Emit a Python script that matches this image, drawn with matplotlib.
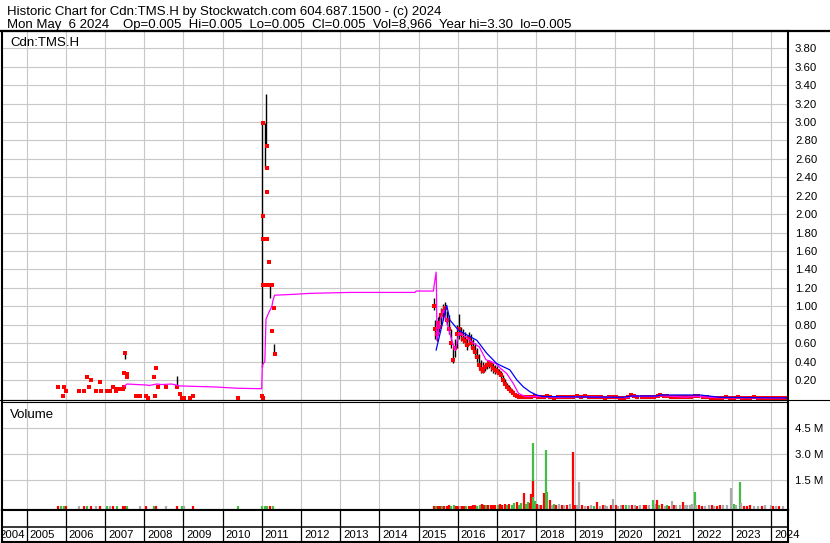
import matplotlib
matplotlib.use("Agg")
import matplotlib.pyplot as plt
from matplotlib.lines import Line2D

plt.rcParams['font.family'] = ['Liberation Sans', 'DejaVu Sans']

W, H = 830, 543

# ---- price data (decimal years) ----
bar_dates = [2007.505, 2008.83, 2011.015, 2011.085, 2011.11, 2011.22, 2011.32,
             2015.40, 2015.43, 2015.46, 2015.49, 2015.52, 2015.57, 2015.63, 2015.68,
             2015.73, 2015.78, 2015.83, 2015.88, 2015.93, 2015.98, 2016.03, 2016.08,
             2016.14, 2016.19, 2016.24, 2016.29, 2016.34, 2016.39, 2016.44, 2016.49,
             2016.54, 2016.59, 2016.65, 2016.70, 2016.75, 2016.80, 2016.85, 2016.90,
             2016.95, 2017.00, 2017.05, 2017.10, 2017.15, 2017.21, 2017.26, 2017.31,
             2017.36, 2017.41, 2017.46, 2017.51, 2017.56,
             2017.97, 2018.27, 2020.44, 2021.14, 2022.10]
bar_hi = [0.50, 0.24, 2.99, 2.99, 3.30, 1.23, 0.59,
          1.09, 0.85, 0.80, 0.88, 0.90, 0.98, 1.02, 1.05,
          0.95, 0.90, 0.75, 0.55, 0.65, 0.80, 0.92, 0.78,
          0.75, 0.72, 0.68, 0.72, 0.70, 0.65, 0.60, 0.55,
          0.48, 0.42, 0.40, 0.38, 0.40, 0.42, 0.40, 0.38,
          0.36, 0.35, 0.32, 0.30, 0.25, 0.21, 0.17, 0.14,
          0.11, 0.09, 0.06, 0.05, 0.04,
          0.05, 0.04, 0.05, 0.05, 0.04]
bar_lo = [0.43, 0.13, 0.34, 2.50, 2.74, 1.09, 0.49,
          0.96, 0.65, 0.62, 0.70, 0.72, 0.80, 0.85, 0.88,
          0.80, 0.70, 0.55, 0.38, 0.45, 0.55, 0.65, 0.62,
          0.60, 0.58, 0.52, 0.58, 0.55, 0.50, 0.45, 0.40,
          0.32, 0.28, 0.28, 0.30, 0.32, 0.33, 0.30, 0.28,
          0.27, 0.26, 0.24, 0.21, 0.17, 0.13, 0.10, 0.08,
          0.06, 0.05, 0.03, 0.02, 0.01,
          0.02, 0.015, 0.02, 0.025, 0.02]

close_dates = [2005.80, 2005.94, 2005.96, 2006.02, 2006.33, 2006.46, 2006.54, 2006.59,
               2006.64, 2006.77, 2006.87, 2006.89, 2007.05, 2007.13, 2007.20, 2007.28,
               2007.31, 2007.39, 2007.45, 2007.49, 2007.49, 2007.505, 2007.56, 2007.56,
               2007.79, 2007.89, 2008.04, 2008.09, 2008.24, 2008.28, 2008.31, 2008.35,
               2008.55, 2008.83, 2008.92, 2008.96, 2009.02, 2009.17, 2009.24, 2010.39,
               2011.00, 2011.03,
               2011.03, 2011.13, 2011.13, 2011.13, 2011.03, 2011.03, 2011.13, 2011.19,
               2011.03, 2011.13, 2011.22, 2011.26, 2011.31, 2011.27, 2011.33,
               2015.40, 2015.43, 2015.46, 2015.49, 2015.52, 2015.57, 2015.63, 2015.68,
               2015.73, 2015.78, 2015.83, 2015.88, 2015.93, 2015.98, 2016.03, 2016.08,
               2016.14, 2016.19, 2016.24, 2016.29, 2016.34, 2016.39, 2016.44, 2016.49,
               2016.54, 2016.59, 2016.65, 2016.70, 2016.75, 2016.80, 2016.85, 2016.90,
               2016.95, 2017.00, 2017.05, 2017.10, 2017.15, 2017.21, 2017.26, 2017.31,
               2017.36, 2017.41, 2017.46, 2017.51, 2017.56,
               2017.65, 2017.72, 2017.80, 2017.88, 2017.97, 2018.05, 2018.12, 2018.20,
               2018.27, 2018.35, 2018.45, 2018.55, 2018.65, 2018.75, 2018.85, 2018.95,
               2019.05, 2019.15, 2019.25, 2019.35, 2019.45, 2019.55, 2019.65, 2019.75,
               2019.85, 2019.95, 2020.05, 2020.15, 2020.25, 2020.35, 2020.42, 2020.50,
               2020.58, 2020.70, 2020.80, 2020.90, 2021.00, 2021.10, 2021.15, 2021.25,
               2021.35, 2021.45, 2021.55, 2021.65, 2021.75, 2021.85, 2021.95, 2022.05,
               2022.12, 2022.25, 2022.35, 2022.45, 2022.55, 2022.65, 2022.75, 2022.85,
               2022.95, 2023.05, 2023.15, 2023.25, 2023.35, 2023.45, 2023.55, 2023.65,
               2023.75, 2023.85, 2023.95, 2024.05, 2024.15, 2024.25, 2024.34]
close_vals = [0.127, 0.03, 0.127, 0.08, 0.08, 0.08, 0.235, 0.127,
              0.20, 0.08, 0.178, 0.08, 0.08, 0.08, 0.127, 0.08,
              0.105, 0.105, 0.105, 0.127, 0.28, 0.49, 0.26, 0.235,
              0.03, 0.03, 0.03, 0.008, 0.235, 0.03, 0.333, 0.127,
              0.127, 0.127, 0.05, 0.008, 0.008, 0.008, 0.03, 0.008,
              0.03, 0.008,
              2.99, 2.74, 2.50, 2.24, 1.98, 1.73, 1.73, 1.48,
              1.234, 1.234, 1.234, 1.234, 0.985, 0.735, 0.48,
              1.00, 0.75, 0.70, 0.82, 0.78, 0.90, 0.95, 0.98,
              0.85, 0.75, 0.60, 0.42, 0.55, 0.70, 0.75, 0.70,
              0.65, 0.62, 0.58, 0.66, 0.60, 0.55, 0.50, 0.45,
              0.36, 0.32, 0.30, 0.34, 0.36, 0.38, 0.36, 0.33,
              0.31, 0.30, 0.28, 0.25, 0.20, 0.16, 0.12, 0.10,
              0.08, 0.06, 0.04, 0.03, 0.02,
              0.02, 0.015, 0.01, 0.02, 0.03, 0.015, 0.01, 0.02,
              0.025, 0.01, 0.008, 0.01, 0.012, 0.01, 0.015, 0.02,
              0.025, 0.02, 0.025, 0.015, 0.01, 0.012, 0.01, 0.008,
              0.01, 0.012, 0.01, 0.008, 0.005, 0.02, 0.035, 0.025,
              0.02, 0.015, 0.02, 0.015, 0.02, 0.03, 0.04, 0.03,
              0.025, 0.02, 0.015, 0.01, 0.012, 0.015, 0.02, 0.03,
              0.025, 0.015, 0.01, 0.008, 0.005, 0.008, 0.005, 0.01,
              0.008, 0.005, 0.01, 0.005, 0.008, 0.005, 0.01, 0.005,
              0.008, 0.005, 0.005, 0.008, 0.005, 0.005, 0.005]

ma_short_dates = [2007.49, 2007.56, 2008.07, 2008.13, 2008.32, 2008.45, 2008.70, 2008.92,
                  2009.81, 2010.39, 2011.00, 2011.015, 2011.08, 2011.11, 2011.17, 2011.26,
                  2011.29, 2011.33, 2011.85, 2012.23, 2013.25, 2014.91, 2014.94, 2015.38,
                  2015.40, 2015.45, 2015.46, 2015.47, 2015.55, 2015.64, 2015.72, 2015.85,
                  2015.94, 2016.03, 2016.20, 2016.40, 2016.55, 2016.72, 2016.97, 2017.08,
                  2017.25, 2017.42, 2017.55, 2017.72, 2017.90, 2018.20, 2018.60, 2019.00,
                  2019.30, 2019.60, 2020.00, 2020.30, 2020.45, 2020.70, 2021.00, 2021.20,
                  2021.50, 2021.80, 2022.10, 2022.40, 2022.70, 2023.00, 2023.50, 2024.00,
                  2024.34]
ma_short_vals = [0.127, 0.156, 0.145, 0.140, 0.156, 0.150, 0.156, 0.135,
                 0.124, 0.110, 0.105, 0.36, 0.40, 0.86, 0.92, 1.00,
                 1.07, 1.12, 1.13, 1.14, 1.15, 1.15, 1.165, 1.165,
                 1.23, 1.37, 1.14, 0.63, 0.85, 0.96, 0.83, 0.63,
                 0.52, 0.71, 0.67, 0.60, 0.56, 0.42, 0.38, 0.33,
                 0.27, 0.16, 0.055, 0.02, 0.02, 0.018, 0.012, 0.018,
                 0.02, 0.013, 0.01, 0.008, 0.025, 0.02, 0.02, 0.03,
                 0.022, 0.013, 0.022, 0.012, 0.007, 0.007, 0.006, 0.006,
                 0.005]

ma_long_dates = [2015.45, 2015.72, 2015.80, 2016.02, 2016.23, 2016.49, 2016.74, 2016.99,
                 2017.08, 2017.33, 2017.51, 2017.67, 2017.84, 2018.01, 2018.18, 2020.22,
                 2020.44, 2021.08, 2021.17, 2022.18, 2022.69, 2024.39]
ma_long_vals = [0.525, 1.01, 0.85, 0.74, 0.69, 0.63, 0.49, 0.38,
                0.36, 0.31, 0.20, 0.127, 0.073, 0.037, 0.02, 0.012,
                0.026, 0.026, 0.037, 0.037, 0.012, 0.005]

# ---- volume data (millions of shares); g = up, r = down, k = unchanged ----
vol_dates = [2005.80, 2005.87, 2005.95, 2006.02, 2006.33, 2006.46, 2006.54, 2006.64,
             2006.77, 2006.87, 2007.05, 2007.13, 2007.20, 2007.31, 2007.45, 2007.50,
             2007.56, 2007.89, 2008.04, 2008.24, 2008.31, 2008.55, 2008.83, 2008.96,
             2009.02, 2009.24, 2010.39, 2011.02, 2011.08, 2011.13, 2011.20, 2011.30,
             2015.40, 2015.45, 2015.50, 2015.55, 2015.60, 2015.66, 2015.72, 2015.78,
             2015.84, 2015.90, 2015.95, 2016.00, 2016.05, 2016.10, 2016.16, 2016.22,
             2016.28, 2016.34, 2016.40, 2016.44, 2016.50, 2016.56, 2016.62, 2016.66,
             2016.72, 2016.78, 2016.84, 2016.90, 2016.96, 2017.02, 2017.08, 2017.14,
             2017.20, 2017.26, 2017.32, 2017.38, 2017.44, 2017.50, 2017.56, 2017.62,
             2017.69, 2017.74, 2017.80, 2017.84, 2017.87, 2017.93, 2017.93, 2017.93,
             2017.98, 2018.03, 2018.08, 2018.13, 2018.21, 2018.245, 2018.29, 2018.35,
             2018.40, 2018.46, 2018.52, 2018.59, 2018.66, 2018.72, 2018.80, 2018.87,
             2018.93, 2019.00, 2019.05, 2019.10, 2019.17, 2019.25, 2019.33, 2019.40,
             2019.48, 2019.56, 2019.63, 2019.70, 2019.75, 2019.82, 2019.90, 2019.97,
             2020.04, 2020.10, 2020.16, 2020.22, 2020.30, 2020.38, 2020.45, 2020.52,
             2020.58, 2020.66, 2020.74, 2020.80, 2020.88, 2020.98, 2021.03, 2021.08,
             2021.14, 2021.20, 2021.28, 2021.35, 2021.40, 2021.46, 2021.52, 2021.58,
             2021.66, 2021.74, 2021.80, 2021.86, 2021.92, 2021.98, 2022.05, 2022.08,
             2022.15, 2022.22, 2022.30, 2022.40, 2022.48, 2022.55, 2022.62, 2022.70,
             2022.78, 2022.88, 2022.96, 2023.06, 2023.10, 2023.20, 2023.22, 2023.30,
             2023.38, 2023.46, 2023.55, 2023.65, 2023.75, 2023.85, 2023.98, 2024.05,
             2024.12, 2024.20, 2024.30]
vol_vals = [0.02, 0.01, 0.03, 0.02, 0.02, 0.02, 0.03, 0.02,
            0.01, 0.03, 0.02, 0.01, 0.02, 0.02, 0.03, 0.03,
            0.02, 0.01, 0.02, 0.02, 0.03, 0.01, 0.02, 0.02,
            0.01, 0.02, 0.02, 0.04, 0.03, 0.04, 0.03, 0.03,
            0.03, 0.04, 0.02, 0.03, 0.02, 0.03, 0.02, 0.05,
            0.03, 0.06, 0.02, 0.04, 0.03, 0.02, 0.03, 0.02,
            0.04, 0.03, 0.10, 0.06, 0.04, 0.08, 0.12, 0.08,
            0.06, 0.10, 0.05, 0.08, 0.10, 0.06, 0.12, 0.09,
            0.15, 0.05, 0.12, 0.08, 0.18, 0.25, 0.10, 0.20,
            0.77, 0.15, 0.27, 0.20, 0.73, 3.67, 1.48, 0.55,
            0.30, 0.12, 0.10, 0.08, 0.79, 3.25, 0.80, 0.37,
            0.10, 0.12, 0.08, 0.12, 0.06, 0.05, 0.08, 0.12,
            3.13, 0.08, 0.06, 1.40, 0.05, 0.04, 0.03, 0.05,
            0.03, 0.25, 0.04, 0.05, 0.10, 0.04, 0.05, 0.42,
            0.05, 0.03, 0.06, 0.05, 0.06, 0.05, 0.08, 0.06,
            0.04, 0.05, 0.10, 0.08, 0.05, 0.37, 0.12, 0.37,
            0.07, 0.15, 0.04, 0.06, 0.03, 0.33, 0.05, 0.08,
            0.06, 0.25, 0.08, 0.10, 0.07, 0.12, 0.82, 0.10,
            0.05, 0.04, 0.03, 0.05, 0.08, 0.03, 0.04, 0.06,
            0.05, 0.08, 1.06, 0.12, 0.06, 1.40, 0.18, 0.04,
            0.03, 0.05, 0.03, 0.04, 0.03, 0.05, 0.10, 0.04,
            0.03, 0.04, 0.03]
vol_kind = ['r', 'g', 'g', 'r', 'k', 'r', 'g', 'r',
            'k', 'r', 'g', 'k', 'r', 'g', 'r', 'r',
            'g', 'k', 'r', 'g', 'r', 'k', 'r', 'g',
            'k', 'r', 'g', 'g', 'g', 'g', 'r', 'g',
            'r', 'g', 'r', 'r', 'g', 'r', 'r', 'r',
            'g', 'g', 'r', 'r', 'k', 'r', 'r', 'g',
            'r', 'r', 'r', 'r', 'g', 'g', 'r', 'r',
            'g', 'r', 'r', 'r', 'r', 'g', 'r', 'r',
            'r', 'g', 'r', 'g', 'g', 'r', 'g', 'g',
            'r', 'g', 'g', 'r', 'r', 'g', 'r', 'g',
            'g', 'r', 'k', 'r', 'r', 'g', 'g', 'r',
            'k', 'g', 'r', 'k', 'r', 'k', 'r', 'k',
            'r', 'r', 'k', 'k', 'r', 'k', 'r', 'k',
            'g', 'r', 'k', 'r', 'k', 'k', 'r', 'k',
            'r', 'k', 'k', 'r', 'g', 'k', 'r', 'k',
            'r', 'k', 'r', 'r', 'k', 'g', 'k', 'r',
            'g', 'r', 'k', 'g', 'r', 'k', 'r', 'k',
            'k', 'r', 'k', 'k', 'k', 'k', 'g', 'k',
            'r', 'r', 'k', 'k', 'r', 'k', 'r', 'r',
            'k', 'k', 'k', 'g', 'k', 'g', 'k', 'r',
            'r', 'r', 'k', 'k', 'r', 'k', 'k', 'r',
            'k', 'r', 'k']

years = list(range(2005, 2025))
price_ticks = [0.2, 0.4, 0.6, 0.8, 1.0, 1.2, 1.4, 1.6, 1.8, 2.0,
               2.2, 2.4, 2.6, 2.8, 3.0, 3.2, 3.4, 3.6, 3.8]
vol_ticks = [1.5, 3.0, 4.5]

kind_colors = {'g': '#44bb44', 'r': '#ff0000', 'k': '#aaaaaa'}
GRID = '#c8c8c8'
XMIN, XMAX = 2004.375, 2024.426


def px_axes(left, top, right, bottom):
    return fig.add_axes([left / W, 1 - bottom / H, (right - left) / W, (bottom - top) / H])


fig = plt.figure(figsize=(W / 100, H / 100), dpi=100)

# header
fig.text(6.7 / W, 1 - 15 / H, "Historic Chart for Cdn:TMS.H by Stockwatch.com 604.687.1500 - (c) 2024",
         fontsize=9.5, va='baseline')
fig.text(6.7 / W, 1 - 28 / H, "Mon May  6 2024", fontsize=9.5, va='baseline')
fig.text(122.7 / W, 1 - 28 / H,
         "Op=0.005  Hi=0.005  Lo=0.005  Cl=0.005  Vol=8,966  Year hi=3.30  lo=0.005",
         fontsize=9.5, va='baseline')

# price panel
ax = px_axes(2, 31, 788, 400)
ax.set_xlim(XMIN, XMAX)
ax.set_ylim(-0.0174, 3.987)
ax.vlines(bar_dates, bar_lo, bar_hi, color='black', lw=1.0, zorder=3)
ax.plot(close_dates, close_vals, 's', color='red', ms=2.2, mew=0, zorder=4)
ax.plot(ma_short_dates, ma_short_vals, color='#ff00ff', lw=0.9, zorder=5)
ax.plot(ma_long_dates, ma_long_vals, color='#0000ff', lw=0.9, zorder=6)
ax.text(8 / 786, 1 - 15 / 369, "Cdn:TMS.H", transform=ax.transAxes, fontsize=9.5, va='baseline')

# volume panel
axv = px_axes(2, 402, 788, 510)
axv.set_xlim(XMIN, XMAX)
axv.set_ylim(-0.2135, 6.017)
vfloor = axv.get_ylim()[0]
axv.vlines(vol_dates, vfloor, vol_vals, colors=[kind_colors[k] for k in vol_kind], lw=1.6, zorder=3)
axv.text(8 / 786, 1 - 16 / 108, "Volume", transform=axv.transAxes, fontsize=9.5, va='baseline')

for a, ticks, labels in [(ax, price_ticks, ['%.2f' % t for t in price_ticks]),
                         (axv, vol_ticks, ['%.1f M' % t for t in vol_ticks])]:
    a.set_xticks(years)
    a.set_xticklabels([])
    a.tick_params(axis='x', length=0)
    a.yaxis.tick_right()
    a.set_yticks(ticks)
    a.set_yticklabels(labels, fontsize=8.2)
    a.tick_params(axis='y', length=0, pad=5)
    a.grid(True, color=GRID, lw=0.8, zorder=0)
    a.set_axisbelow(True)
    for s in a.spines.values():
        s.set_color('black')

ax.spines['top'].set_linewidth(1.5)
ax.spines['left'].set_linewidth(1.5)
ax.spines['right'].set_linewidth(1.5)
ax.spines['bottom'].set_linewidth(0.8)
axv.spines['top'].set_linewidth(0.8)
axv.spines['left'].set_linewidth(1.5)
axv.spines['right'].set_linewidth(1.5)
axv.spines['bottom'].set_linewidth(1.5)

# year strip
axy = px_axes(2, 510, 788, 542)
axy.set_xlim(XMIN, XMAX)
axy.set_ylim(0, 1)
axy.set_xticks([])
axy.set_yticks([])
axy.vlines(years, 0, 1, color='black', lw=0.9)
axy.axhline((542 - 527) / 32, color='black', lw=1.1)
for s in axy.spines.values():
    s.set_linewidth(1.5)
axy.text(2005 - 1.5 / 39.2, (542 - 535) / 32, "2004", ha='right', va='center', fontsize=8.2, clip_on=True)
for y in years:
    axy.text(y + 3 / 39.2, (542 - 535) / 32, str(y), ha='left', va='center', fontsize=8.2)

# full-width rules
fig.add_artist(Line2D([0, 1], [1 - 31 / H, 1 - 31 / H], color='black', lw=1.6, transform=fig.transFigure))
fig.add_artist(Line2D([0, 1], [1 - 400 / H, 1 - 400 / H], color='black', lw=0.8, transform=fig.transFigure))

fig.savefig("out.png", dpi=100)
